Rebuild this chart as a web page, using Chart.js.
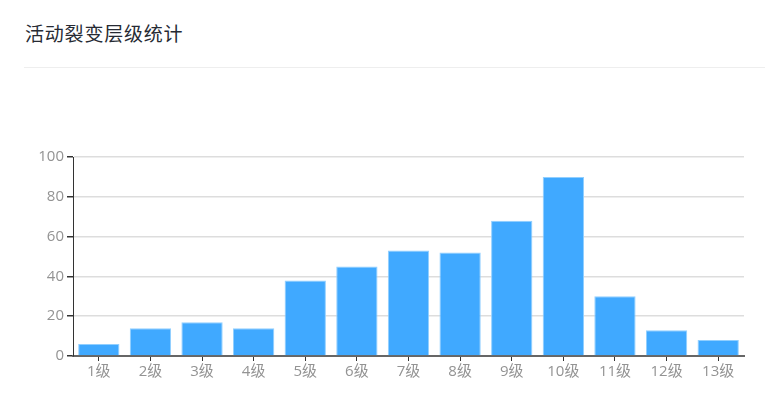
<!DOCTYPE html>
<html>
<head>
<meta charset="utf-8">
<script src="https://cdn.jsdelivr.net/npm/chart.js@4"></script>
<style>
    html, body { margin: 0; padding: 0; background: #fff; }
    #wrap { position: relative; width: 765px; height: 411px; overflow: hidden; }
    #title {
        position: absolute; left: 25px; top: 20px;
        font-family: "Noto Sans CJK SC", sans-serif; font-size: 19px;
        letter-spacing: 0.8px;
        color: #262a33; line-height: 26px;
    }
    #sep { position: absolute; left: 24px; right: 0; top: 67px; height: 1px; background: #eeeeee; }
    #chart { position: absolute; left: 0; top: 0; }
</style>
</head>
<body>
<div id="wrap">
    <div id="title">活动裂变层级统计</div>
    <div id="sep"></div>
    <canvas id="chart" width="765" height="411"></canvas>
</div>
<script>
const categories = ['1级', '2级', '3级', '4级', '5级', '6级', '7级', '8级', '9级', '10级', '11级', '12级', '13级'];
const levelCounts = [6, 14, 17, 14, 38, 45, 53, 52, 68, 90, 30, 13, 8];
const yTicks = [0, 20, 40, 60, 80, 100];

document.addEventListener('DOMContentLoaded', () => {
    const ctx = document.getElementById('chart').getContext('2d');
    const font = { family: '"Open Sans", "Noto Sans CJK SC", sans-serif', size: 15 };

    new Chart(ctx, {
        type: 'bar',
        data: {
            labels: categories,
            datasets: [{
                data: levelCounts,
                backgroundColor: '#40a9ff',
                borderColor: '#91cfff',
                borderWidth: 1,
                borderSkipped: 'start',
                barPercentage: 0.8,
                categoryPercentage: 1.0
            }]
        },
        options: {
            responsive: false,
            animation: false,
            devicePixelRatio: 1,
            layout: { padding: { top: 157, right: 21, bottom: 0, left: 0 } },
            plugins: { legend: { display: false }, tooltip: { enabled: false } },
            scales: {
                x: {
                    grid: { drawOnChartArea: false, offset: false, tickLength: 5, tickColor: '#333' },
                    border: { color: '#666', width: 2 },
                    ticks: { color: '#939393', font, padding: 2 },
                    afterFit: (scale) => { scale.height = 55; }
                },
                y: {
                    min: 0,
                    max: 100,
                    afterBuildTicks: (scale) => { scale.ticks = yTicks.map(v => ({ value: v })); },
                    grid: { color: '#dddddd', lineWidth: 1.5, tickLength: 6, tickColor: '#333' },
                    border: { color: '#333', width: 1 },
                    ticks: { color: '#939393', font, padding: 3 },
                    afterFit: (scale) => { scale.width = 73; }
                }
            }
        }
    });
});
</script>
</body>
</html>
